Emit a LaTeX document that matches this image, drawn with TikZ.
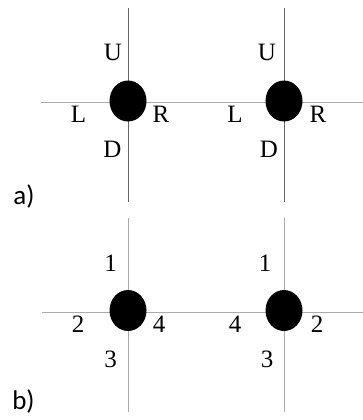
\documentclass[tikz,border=0pt]{standalone}
\usepackage{fontspec}
\usetikzlibrary{shapes.geometric}
\setmainfont{Liberation Serif}
\newfontfamily\panelfont{Carlito}
\begin{document}
\begin{tikzpicture}[x=1pt,y=-1pt,
  dot/.style={ellipse,fill=black,minimum width=37pt,minimum height=41pt,inner sep=0pt},
  lab/.style={font=\fontsize{25}{27}\selectfont,inner sep=0pt},
  plab/.style={font=\panelfont\fontsize{27}{29}\selectfont,inner sep=0pt},
  darkline/.style={draw=black!60,line width=0.9pt},
  lightline/.style={draw=black!33,line width=0.9pt}]
\useasboundingbox (0,0) rectangle (363,420);
% panel a
\coordinate (aT1) at (128,8);
\coordinate (aB1) at (128,202);
\coordinate (aT2) at (284,8);
\coordinate (aB2) at (284,202);
\coordinate (aHL) at (41,102);
\coordinate (aHR) at (363,102);
\draw[lightline] (aHL) -- (aHR);
\draw[darkline] (aT1) -- (aB1);
\draw[darkline] (aT2) -- (aB2);
\node[dot] (a1) at (128,101) {};
\node[dot] (a2) at (284,101) {};
\node[lab] (aU1) at (113,52.5) {U};
\node[lab] (aL1) at (78.5,114.5) {L};
\node[lab] (aR1) at (161,114.5) {R};
\node[lab] (aD1) at (112.5,149.5) {D};
\node[lab] (aU2) at (267,52.5) {U};
\node[lab] (aL2) at (235,114.5) {L};
\node[lab] (aR2) at (318,114.5) {R};
\node[lab] (aD2) at (269,149.5) {D};
\node[plab] (pa) at (24,196) {a)};
% panel b
\coordinate (bT1) at (128,218);
\coordinate (bB1) at (128,412);
\coordinate (bT2) at (284,218);
\coordinate (bB2) at (284,412);
\coordinate (bHL) at (42,312);
\coordinate (bHR) at (363,312);
\draw[lightline] (bHL) -- (bHR);
\draw[lightline] (bT1) -- (bB1);
\draw[lightline] (bT2) -- (bB2);
\node[dot] (b1) at (128,310.5) {};
\node[dot] (b2) at (284,310.5) {};
\node[lab] (b1u) at (110.5,263) {1};
\node[lab] (b1l) at (78,324.5) {2};
\node[lab] (b1r) at (159,324.5) {4};
\node[lab] (b1d) at (110.5,359) {3};
\node[lab] (b2u) at (265,263) {1};
\node[lab] (b2l) at (235,324.5) {4};
\node[lab] (b2r) at (317,324.5) {2};
\node[lab] (b2d) at (267,359) {3};
\node[plab] (pb) at (23.5,401) {b)};
\end{tikzpicture}
\end{document}
